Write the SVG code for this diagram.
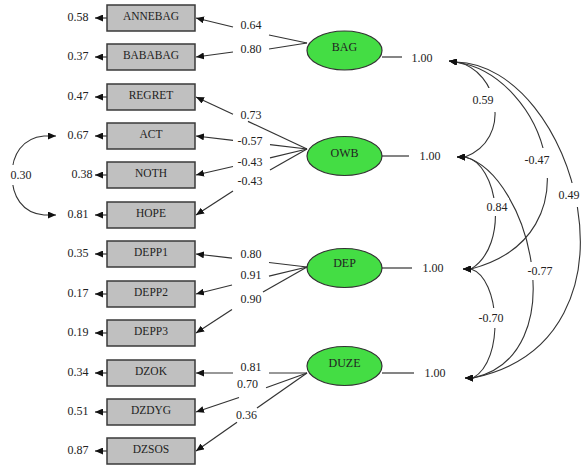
<svg xmlns="http://www.w3.org/2000/svg" width="581" height="472" viewBox="0 0 581 472">
<style>
.box{fill:#c0c0c0;stroke:#3a3a3a;stroke-width:1.5}
.lat{fill:#44dd44;stroke:#333;stroke-width:1.2}
.t{font-family:"Liberation Serif","Times New Roman",serif;font-size:12px;fill:#222;text-anchor:middle}
.bt{font-family:"Liberation Serif","Times New Roman",serif;font-size:11.5px;fill:#222;text-anchor:middle}
.ln{stroke:#333;stroke-width:1.2;fill:none}
.ar{stroke:#333;stroke-width:1.2;fill:none;marker-end:url(#ah)}
.cv{stroke:#333;stroke-width:1.1;fill:none;marker-start:url(#ah);marker-end:url(#ah)}
.bg{fill:#fff}
</style>
<defs>
<marker id="ah" markerUnits="userSpaceOnUse" markerWidth="9" markerHeight="7" refX="8" refY="3.5" orient="auto-start-reverse">
<path d="M0,0 L8,3.5 L0,7 z" fill="#111"/>
</marker>
</defs>
<rect width="581" height="472" fill="#fff"/>

<g id="connectors">
<!-- BAG loadings -->
<line class="ln" x1="307" y1="43" x2="269" y2="35"/><line class="ar" x1="233" y1="27" x2="196" y2="18"/>
<line class="ln" x1="307" y1="43" x2="269" y2="49"/><line class="ar" x1="233" y1="52" x2="196" y2="57"/>
<!-- OWB loadings -->
<line class="ln" x1="307" y1="149" x2="248" y2="121.4"/><line class="ar" x1="233" y1="114.3" x2="196" y2="97"/>
<line class="ln" x1="307" y1="149" x2="270" y2="144.7"/><line class="ar" x1="233" y1="140.3" x2="196" y2="136"/>
<line class="ln" x1="307" y1="149" x2="270" y2="157.8"/><line class="ar" x1="233" y1="166.5" x2="196" y2="175"/>
<line class="ln" x1="307" y1="149" x2="270" y2="170"/><line class="ar" x1="233" y1="191" x2="196" y2="215"/>
<!-- DEP loadings -->
<line class="ln" x1="307" y1="267" x2="269" y2="262.5"/><line class="ar" x1="232" y1="258.2" x2="196" y2="254"/>
<line class="ln" x1="307" y1="267" x2="269" y2="276.1"/><line class="ar" x1="232" y1="285" x2="196" y2="294"/>
<line class="ln" x1="307" y1="267" x2="263" y2="292"/><line class="ar" x1="232" y1="309.6" x2="196" y2="333"/>
<!-- DUZE loadings -->
<line class="ln" x1="307" y1="373" x2="269" y2="373"/><line class="ar" x1="233" y1="373" x2="196" y2="373"/>
<line class="ln" x1="307" y1="373" x2="266" y2="387.8"/><line class="ar" x1="239" y1="397.5" x2="196" y2="412"/>
<line class="ln" x1="307" y1="373" x2="257" y2="408.1"/><line class="ar" x1="237" y1="422.2" x2="196" y2="451"/>
<!-- error arrows -->
<line class="ar" x1="107" y1="18" x2="95" y2="18"/>
<line class="ar" x1="107" y1="57" x2="95" y2="57"/>
<line class="ar" x1="107" y1="97" x2="95" y2="97"/>
<line class="ar" x1="107" y1="136" x2="95" y2="136"/>
<line class="ar" x1="107" y1="175" x2="95" y2="175"/>
<line class="ar" x1="107" y1="215" x2="95" y2="215"/>
<line class="ar" x1="107" y1="254" x2="95" y2="254"/>
<line class="ar" x1="107" y1="294" x2="95" y2="294"/>
<line class="ar" x1="107" y1="333" x2="95" y2="333"/>
<line class="ar" x1="107" y1="373" x2="95" y2="373"/>
<line class="ar" x1="107" y1="412" x2="95" y2="412"/>
<line class="ar" x1="107" y1="451" x2="95" y2="451"/>
<!-- latent variance stubs -->
<line class="ln" x1="382" y1="57" x2="402" y2="57"/>
<line class="ln" x1="382" y1="156" x2="409" y2="156"/>
<line class="ln" x1="382" y1="268" x2="412" y2="268"/>
<line class="ln" x1="382" y1="373" x2="414" y2="373"/>
<!-- covariance ACT-HOPE -->
<path class="cv" d="M56,136 L44,136 C22,138 12,155 12,175 C12,196 22,213 44,215 L56,215"/>
<!-- latent covariances -->
<path class="cv" d="M449,61 L456,62 C500,70 512,140 465,157 L457,157"/>
<path class="cv" d="M449,61 L456,62 C545,75 600,235 471,269 L463,269"/>
<path class="cv" d="M449,61 L456,62 C575,65 655,340 473,378 L465,378"/>
<path class="cv" d="M457,157 L465,157 C498,163 510,245 471,269 L463,269"/>
<path class="cv" d="M457,157 L465,157 C530,175 575,355 473,378 L465,378"/>
<path class="cv" d="M463,269 L471,269 C500,278 505,360 473,378 L465,378"/>
<!-- label backgrounds -->
<rect class="bg" x="470" y="88" width="30" height="24"/>
<rect class="bg" x="523" y="148" width="29" height="30"/>
<rect class="bg" x="557" y="183" width="24" height="24"/>
<rect class="bg" x="486" y="198" width="23" height="18"/>
<rect class="bg" x="527" y="262" width="27" height="18"/>
<rect class="bg" x="478" y="308" width="27" height="20"/>
<rect class="bg" x="6" y="165" width="30" height="20"/>
<!-- labels -->
<text class="t" x="251" y="29">0.64</text>
<text class="t" x="251" y="53">0.80</text>
<text class="t" x="251" y="119">0.73</text>
<text class="t" x="250" y="145">-0.57</text>
<text class="t" x="250" y="166">-0.43</text>
<text class="t" x="250" y="185">-0.43</text>
<text class="t" x="251" y="258">0.80</text>
<text class="t" x="251" y="279">0.91</text>
<text class="t" x="251" y="303">0.90</text>
<text class="t" x="251" y="371">0.81</text>
<text class="t" x="247.5" y="388">0.70</text>
<text class="t" x="246.5" y="419">0.36</text>
<text class="t" x="21" y="179">0.30</text>
<text class="t" x="483" y="104">0.59</text>
<text class="t" x="537" y="164">-0.47</text>
<text class="t" x="569" y="199">0.49</text>
<text class="t" x="497" y="211">0.84</text>
<text class="t" x="540" y="275">-0.77</text>
<text class="t" x="491" y="322">-0.70</text>
<text class="t" x="422" y="62">1.00</text>
<text class="t" x="430" y="160">1.00</text>
<text class="t" x="433" y="272">1.00</text>
<text class="t" x="435" y="377">1.00</text>
</g>

<g id="ANNEBAG"><rect class="box" x="107" y="5" width="88" height="26"/><text class="bt" x="151" y="20">ANNEBAG</text><text class="t" x="78" y="21">0.58</text></g>
<g id="BABABAG"><rect class="box" x="107" y="44" width="88" height="26"/><text class="bt" x="151" y="59">BABABAG</text><text class="t" x="78" y="60">0.37</text></g>
<g id="REGRET"><rect class="box" x="107" y="84" width="88" height="26"/><text class="bt" x="151" y="99">REGRET</text><text class="t" x="78" y="100">0.47</text></g>
<g id="ACT"><rect class="box" x="107" y="123" width="88" height="26"/><text class="bt" x="151" y="138">ACT</text><text class="t" x="78" y="139">0.67</text></g>
<g id="NOTH"><rect class="box" x="107" y="162" width="88" height="26"/><text class="bt" x="151" y="177">NOTH</text><text class="t" x="82" y="178">0.38</text></g>
<g id="HOPE"><rect class="box" x="107" y="202" width="88" height="26"/><text class="bt" x="151" y="217">HOPE</text><text class="t" x="78" y="218">0.81</text></g>
<g id="DEPP1"><rect class="box" x="107" y="241" width="88" height="26"/><text class="bt" x="151" y="256">DEPP1</text><text class="t" x="78" y="257">0.35</text></g>
<g id="DEPP2"><rect class="box" x="107" y="281" width="88" height="26"/><text class="bt" x="151" y="296">DEPP2</text><text class="t" x="78" y="297">0.17</text></g>
<g id="DEPP3"><rect class="box" x="107" y="320" width="88" height="26"/><text class="bt" x="151" y="335">DEPP3</text><text class="t" x="78" y="336">0.19</text></g>
<g id="DZOK"><rect class="box" x="107" y="360" width="88" height="26"/><text class="bt" x="151" y="375">DZOK</text><text class="t" x="78" y="376">0.34</text></g>
<g id="DZDYG"><rect class="box" x="107" y="399" width="88" height="26"/><text class="bt" x="151" y="414">DZDYG</text><text class="t" x="78" y="415">0.51</text></g>
<g id="DZSOS"><rect class="box" x="107" y="438" width="88" height="26"/><text class="bt" x="151" y="453">DZSOS</text><text class="t" x="78" y="454">0.87</text></g>

<g id="BAG"><ellipse class="lat" cx="344.5" cy="50.5" rx="37.5" ry="19.5"/><text class="t" x="344.5" y="51">BAG</text></g>
<g id="OWB"><ellipse class="lat" cx="344.5" cy="156" rx="37.5" ry="19.5"/><text class="t" x="344.5" y="157">OWB</text></g>
<g id="DEP"><ellipse class="lat" cx="344.5" cy="268" rx="37.5" ry="19.5"/><text class="t" x="344.5" y="267">DEP</text></g>
<g id="DUZE"><ellipse class="lat" cx="344.5" cy="366" rx="37.5" ry="19.5"/><text class="t" x="344.5" y="367">DUZE</text></g>
</svg>
